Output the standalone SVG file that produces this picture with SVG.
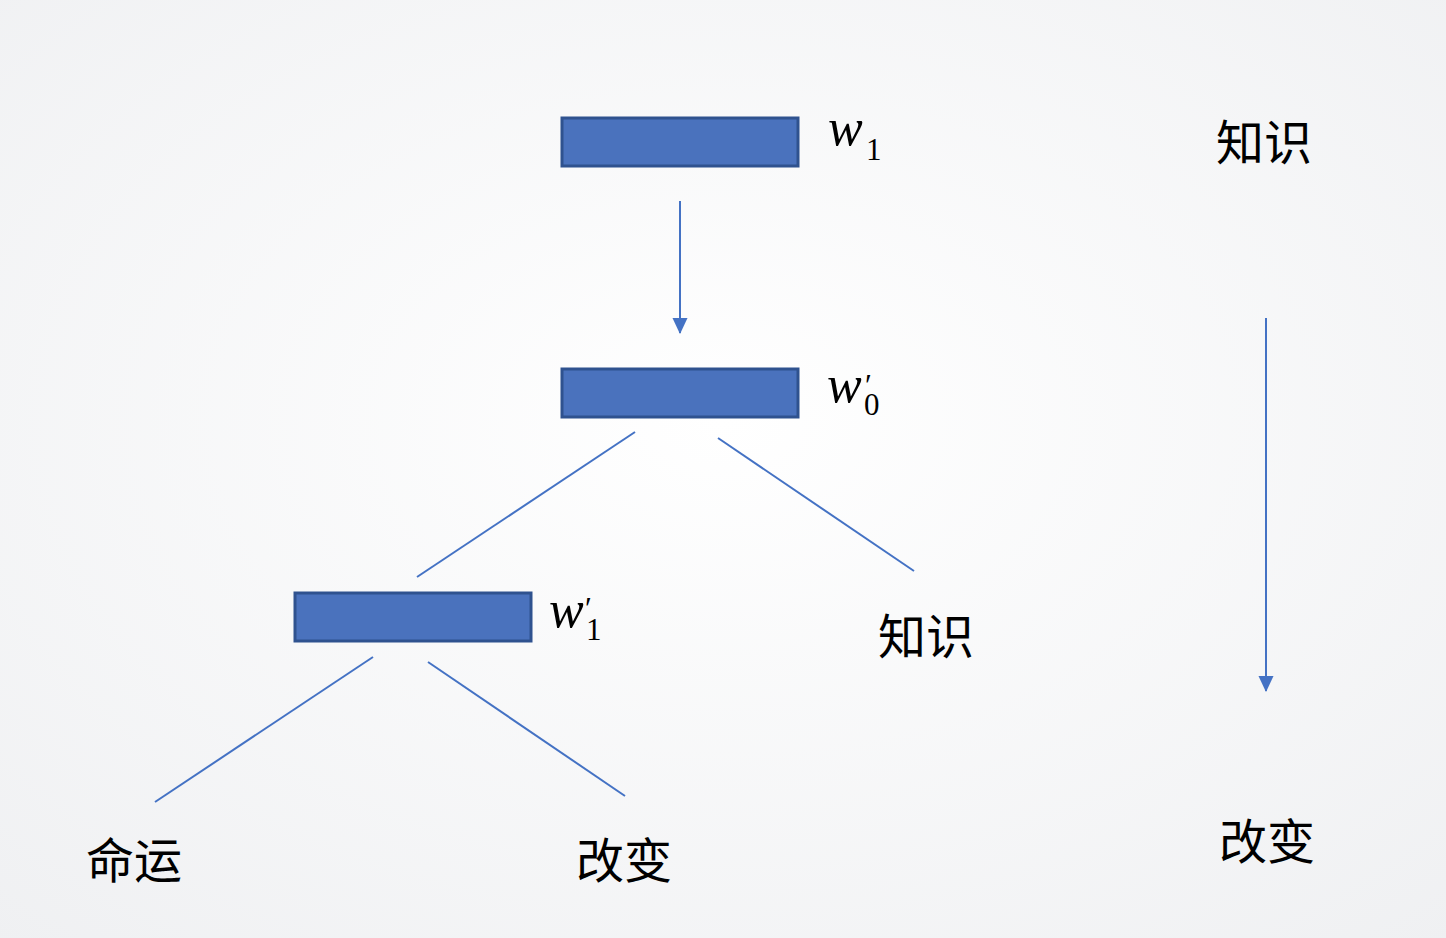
<svg xmlns="http://www.w3.org/2000/svg" width="1446" height="938" viewBox="0 0 1446 938">
<defs>
<radialGradient id="bg" cx="50%" cy="45%" r="75%">
<stop offset="0" stop-color="#ffffff"/>
<stop offset="1" stop-color="#eff0f2"/>
</radialGradient>
<marker id="ah" markerUnits="userSpaceOnUse" markerWidth="16" markerHeight="17" refX="16" refY="8" orient="auto" viewBox="0 0 17 16">
<path d="M0,0 L17,8 L0,16 Z" fill="#4472C4"/>
</marker>
<style>
.box{fill:#4A72BD;stroke:#2F528F;stroke-width:3}
.ln{stroke:#4472C4;stroke-width:2;fill:none}
.zh{font-family:"Noto Sans CJK SC","Noto Sans",sans-serif;font-size:48px;fill:#000}
.m{font-family:"Liberation Serif","Times New Roman",serif;fill:#000}
.it{font-style:italic;font-size:52px}
.s{font-style:normal;font-size:31px}
</style>
</defs>
<rect width="1446" height="938" fill="url(#bg)"/>
<g id="connectors">
<line class="ln" x1="680" y1="201" x2="680" y2="333" marker-end="url(#ah)"/>
<line class="ln" x1="1266" y1="318" x2="1266" y2="691" marker-end="url(#ah)"/>
<line class="ln" x1="635" y1="432" x2="417" y2="577"/>
<line class="ln" x1="718" y1="438" x2="914" y2="571"/>
<line class="ln" x1="373" y1="657" x2="155" y2="802"/>
<line class="ln" x1="428" y1="662" x2="625" y2="796"/>
</g>
<g id="node-w1">
<rect class="box" x="562" y="118" width="236" height="48"/>
<text class="m"><tspan class="it" x="828" y="145">w</tspan><tspan class="s" x="866" y="160">1</tspan></text>
</g>
<g id="node-w0p">
<rect class="box" x="562" y="369" width="236" height="48"/>
<text class="m"><tspan class="it" x="827" y="402">w</tspan><tspan class="s" x="865" y="396">′</tspan><tspan class="s" x="864" y="415">0</tspan></text>
</g>
<g id="node-w1p">
<rect class="box" x="295" y="593" width="236" height="48"/>
<text class="m"><tspan class="it" x="549" y="627">w</tspan><tspan class="s" x="585" y="619">′</tspan><tspan class="s" x="586" y="640">1</tspan></text>
</g>
<g id="label-zhishi-right"><text class="zh" x="1216" y="160">知识</text></g>
<g id="label-gaibian-right"><text class="zh" x="1219" y="859">改变</text></g>
<g id="label-zhishi-mid"><text class="zh" x="878" y="654">知识</text></g>
<g id="label-mingyun"><text class="zh" x="86" y="878">命运</text></g>
<g id="label-gaibian"><text class="zh" x="576" y="878">改变</text></g>
</svg>
